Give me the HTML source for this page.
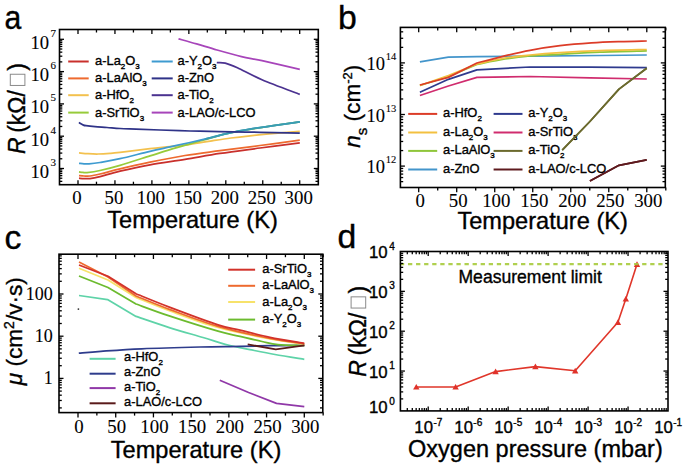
<!DOCTYPE html>
<html><head><meta charset="utf-8"><style>
html,body{margin:0;padding:0;background:#fff;}
text{stroke:#000;stroke-width:0.35px;paint-order:stroke;}
text[font-family*=Serif]{stroke-width:0.1px;}
svg{display:block;}
</style></head><body>
<svg width="685" height="469" viewBox="0 0 685 469">
<rect width="685" height="469" fill="#fff"/>
<path d="M79.00,178.20 C79.83,178.27 82.17,178.53 84.00,178.60 C85.83,178.67 87.33,178.93 90.00,178.60 C92.67,178.27 95.00,177.83 100.00,176.60 C105.00,175.37 111.67,173.17 120.00,171.20 C128.33,169.23 139.17,166.77 150.00,164.80 C160.83,162.83 173.33,161.30 185.00,159.40 C196.67,157.50 207.50,155.30 220.00,153.40 C232.50,151.50 246.70,149.77 260.00,148.00 C273.30,146.23 293.17,143.67 299.80,142.80" fill="none" stroke="#C9302C" stroke-width="1.75" stroke-linejoin="round" />
<path d="M79.00,175.60 C79.83,175.67 82.17,175.93 84.00,176.00 C85.83,176.07 87.33,176.33 90.00,176.00 C92.67,175.67 95.00,175.18 100.00,174.00 C105.00,172.82 111.67,170.87 120.00,168.90 C128.33,166.93 139.17,164.43 150.00,162.20 C160.83,159.97 173.33,157.42 185.00,155.50 C196.67,153.58 207.50,152.37 220.00,150.70 C232.50,149.03 246.70,147.25 260.00,145.50 C273.30,143.75 293.17,141.08 299.80,140.20" fill="none" stroke="#EE6A2F" stroke-width="1.75" stroke-linejoin="round" />
<path d="M79.00,152.90 C80.50,153.03 84.83,153.52 88.00,153.70 C91.17,153.88 94.33,154.05 98.00,154.00 C101.67,153.95 106.33,153.67 110.00,153.40 C113.67,153.13 113.33,153.18 120.00,152.40 C126.67,151.62 141.67,149.67 150.00,148.70 C158.33,147.73 163.33,147.33 170.00,146.60 C176.67,145.87 183.00,145.27 190.00,144.30 C197.00,143.33 205.17,141.85 212.00,140.80 C218.83,139.75 224.67,138.83 231.00,138.00 C237.33,137.17 242.67,136.57 250.00,135.80 C257.33,135.03 266.70,134.15 275.00,133.40 C283.30,132.65 295.67,131.65 299.80,131.30" fill="none" stroke="#F3C14E" stroke-width="1.75" stroke-linejoin="round" />
<path d="M79.00,171.90 C79.67,171.98 81.67,172.28 83.00,172.40 C84.33,172.52 84.17,172.92 87.00,172.60 C89.83,172.28 94.50,171.72 100.00,170.50 C105.50,169.28 111.67,167.73 120.00,165.30 C128.33,162.87 141.67,158.52 150.00,155.90 C158.33,153.28 163.33,151.62 170.00,149.60 C176.67,147.58 184.17,145.47 190.00,143.80 C195.83,142.13 200.00,141.02 205.00,139.60 C210.00,138.18 214.50,136.68 220.00,135.30 C225.50,133.92 229.67,132.82 238.00,131.30 C246.33,129.78 259.70,127.78 270.00,126.20 C280.30,124.62 294.83,122.53 299.80,121.80" fill="none" stroke="#97CB3A" stroke-width="1.75" stroke-linejoin="round" />
<path d="M79.00,163.30 C79.83,163.38 82.33,163.70 84.00,163.80 C85.67,163.90 86.33,164.12 89.00,163.90 C91.67,163.68 94.83,163.37 100.00,162.50 C105.17,161.63 111.67,160.57 120.00,158.70 C128.33,156.83 141.67,153.27 150.00,151.30 C158.33,149.33 163.33,148.37 170.00,146.90 C176.67,145.43 183.00,144.10 190.00,142.50 C197.00,140.90 205.17,138.95 212.00,137.30 C218.83,135.65 224.67,133.97 231.00,132.60 C237.33,131.23 242.67,130.30 250.00,129.10 C257.33,127.90 266.70,126.62 275.00,125.40 C283.30,124.18 295.67,122.40 299.80,121.80" fill="none" stroke="#3E9BD0" stroke-width="1.75" stroke-linejoin="round" />
<path d="M205.00,139.20 C206.17,138.88 207.67,138.40 212.00,137.30 C216.33,136.20 224.67,133.97 231.00,132.60 C237.33,131.23 242.67,130.30 250.00,129.10 C257.33,127.90 266.70,126.62 275.00,125.40 C283.30,124.18 295.67,122.40 299.80,121.80" fill="none" stroke="#3A9DB2" stroke-width="1.75" stroke-linejoin="round" />
<path d="M79.00,122.30 C79.25,122.52 79.83,123.17 80.50,123.60 C81.17,124.03 82.08,124.55 83.00,124.90 C83.92,125.25 84.00,125.40 86.00,125.70 C88.00,126.00 91.50,126.40 95.00,126.70 C98.50,127.00 102.83,127.20 107.00,127.50 C111.17,127.80 115.17,128.23 120.00,128.50 C124.83,128.77 129.33,128.85 136.00,129.10 C142.67,129.35 151.00,129.68 160.00,130.00 C169.00,130.32 180.00,130.73 190.00,131.00 C200.00,131.27 208.33,131.38 220.00,131.60 C231.67,131.82 246.70,132.05 260.00,132.30 C273.30,132.55 293.17,132.97 299.80,133.10" fill="none" stroke="#2F3388" stroke-width="1.75" stroke-linejoin="round" />
<path d="M178.50,38.80 C181.52,39.65 190.18,42.03 196.60,43.90 C203.02,45.77 209.52,47.88 217.00,50.00 C224.48,52.12 234.00,54.82 241.50,56.60 C249.00,58.38 252.28,58.57 262.00,60.70 C271.72,62.83 293.50,67.95 299.80,69.40" fill="none" stroke="#A745BA" stroke-width="1.75" stroke-linejoin="round" />
<path d="M216.80,62.60 C218.20,62.68 221.77,62.23 225.20,63.10 C228.63,63.97 231.27,65.03 237.40,67.80 C243.53,70.57 251.60,75.27 262.00,79.70 C272.40,84.13 293.50,91.95 299.80,94.40" fill="none" stroke="#4B3290" stroke-width="1.75" stroke-linejoin="round" />
<line x1="68.20" y1="61.50" x2="88.70" y2="61.50" stroke="#C9302C" stroke-width="2.0" />
<text x="95.00" y="65.40" font-family="'Liberation Sans', sans-serif" font-size="12.9" text-anchor="start" >a-La<tspan baseline-shift="-4" font-size="8">2</tspan>O<tspan baseline-shift="-4" font-size="8">3</tspan></text>
<line x1="68.20" y1="78.40" x2="88.70" y2="78.40" stroke="#EE6A2F" stroke-width="2.0" />
<text x="95.00" y="82.30" font-family="'Liberation Sans', sans-serif" font-size="12.9" text-anchor="start" >a-LaAlO<tspan baseline-shift="-4" font-size="8">3</tspan></text>
<line x1="68.20" y1="95.20" x2="88.70" y2="95.20" stroke="#F3C14E" stroke-width="2.0" />
<text x="95.00" y="99.10" font-family="'Liberation Sans', sans-serif" font-size="12.9" text-anchor="start" >a-HfO<tspan baseline-shift="-4" font-size="8">2</tspan></text>
<line x1="68.20" y1="112.60" x2="88.70" y2="112.60" stroke="#97CB3A" stroke-width="2.0" />
<text x="95.00" y="116.50" font-family="'Liberation Sans', sans-serif" font-size="12.9" text-anchor="start" >a-SrTiO<tspan baseline-shift="-4" font-size="8">3</tspan></text>
<line x1="151.70" y1="61.50" x2="172.70" y2="61.50" stroke="#3E9BD0" stroke-width="2.0" />
<text x="177.50" y="65.40" font-family="'Liberation Sans', sans-serif" font-size="12.9" text-anchor="start" >a-Y<tspan baseline-shift="-4" font-size="8">2</tspan>O<tspan baseline-shift="-4" font-size="8">3</tspan></text>
<line x1="151.70" y1="78.40" x2="172.70" y2="78.40" stroke="#2F3388" stroke-width="2.0" />
<text x="177.50" y="82.30" font-family="'Liberation Sans', sans-serif" font-size="12.9" text-anchor="start" >a-ZnO</text>
<line x1="151.70" y1="95.20" x2="172.70" y2="95.20" stroke="#4B3290" stroke-width="2.0" />
<text x="177.50" y="99.10" font-family="'Liberation Sans', sans-serif" font-size="12.9" text-anchor="start" >a-TiO<tspan baseline-shift="-4" font-size="8">2</tspan></text>
<line x1="151.70" y1="112.60" x2="172.70" y2="112.60" stroke="#A745BA" stroke-width="2.0" />
<text x="177.50" y="116.50" font-family="'Liberation Sans', sans-serif" font-size="12.9" text-anchor="start" >a-LAO/c-LCO</text>
<rect x="59.50" y="29.50" width="258.80" height="155.20" fill="none" stroke="#000" stroke-width="1.6"/>
<line x1="78.00" y1="184.70" x2="78.00" y2="180.20" stroke="#000" stroke-width="1.3" />
<line x1="78.00" y1="29.50" x2="78.00" y2="34.00" stroke="#000" stroke-width="1.3" />
<line x1="114.95" y1="184.70" x2="114.95" y2="180.20" stroke="#000" stroke-width="1.3" />
<line x1="114.95" y1="29.50" x2="114.95" y2="34.00" stroke="#000" stroke-width="1.3" />
<line x1="151.90" y1="184.70" x2="151.90" y2="180.20" stroke="#000" stroke-width="1.3" />
<line x1="151.90" y1="29.50" x2="151.90" y2="34.00" stroke="#000" stroke-width="1.3" />
<line x1="188.85" y1="184.70" x2="188.85" y2="180.20" stroke="#000" stroke-width="1.3" />
<line x1="188.85" y1="29.50" x2="188.85" y2="34.00" stroke="#000" stroke-width="1.3" />
<line x1="225.80" y1="184.70" x2="225.80" y2="180.20" stroke="#000" stroke-width="1.3" />
<line x1="225.80" y1="29.50" x2="225.80" y2="34.00" stroke="#000" stroke-width="1.3" />
<line x1="262.75" y1="184.70" x2="262.75" y2="180.20" stroke="#000" stroke-width="1.3" />
<line x1="262.75" y1="29.50" x2="262.75" y2="34.00" stroke="#000" stroke-width="1.3" />
<line x1="299.70" y1="184.70" x2="299.70" y2="180.20" stroke="#000" stroke-width="1.3" />
<line x1="299.70" y1="29.50" x2="299.70" y2="34.00" stroke="#000" stroke-width="1.3" />
<line x1="96.47" y1="184.70" x2="96.47" y2="181.70" stroke="#000" stroke-width="1.3" />
<line x1="96.47" y1="29.50" x2="96.47" y2="32.50" stroke="#000" stroke-width="1.3" />
<line x1="133.43" y1="184.70" x2="133.43" y2="181.70" stroke="#000" stroke-width="1.3" />
<line x1="133.43" y1="29.50" x2="133.43" y2="32.50" stroke="#000" stroke-width="1.3" />
<line x1="170.38" y1="184.70" x2="170.38" y2="181.70" stroke="#000" stroke-width="1.3" />
<line x1="170.38" y1="29.50" x2="170.38" y2="32.50" stroke="#000" stroke-width="1.3" />
<line x1="207.32" y1="184.70" x2="207.32" y2="181.70" stroke="#000" stroke-width="1.3" />
<line x1="207.32" y1="29.50" x2="207.32" y2="32.50" stroke="#000" stroke-width="1.3" />
<line x1="244.28" y1="184.70" x2="244.28" y2="181.70" stroke="#000" stroke-width="1.3" />
<line x1="244.28" y1="29.50" x2="244.28" y2="32.50" stroke="#000" stroke-width="1.3" />
<line x1="281.23" y1="184.70" x2="281.23" y2="181.70" stroke="#000" stroke-width="1.3" />
<line x1="281.23" y1="29.50" x2="281.23" y2="32.50" stroke="#000" stroke-width="1.3" />
<line x1="59.50" y1="181.35" x2="62.30" y2="181.35" stroke="#000" stroke-width="1.3" />
<line x1="318.30" y1="181.35" x2="315.50" y2="181.35" stroke="#000" stroke-width="1.3" />
<line x1="59.50" y1="178.22" x2="62.30" y2="178.22" stroke="#000" stroke-width="1.3" />
<line x1="318.30" y1="178.22" x2="315.50" y2="178.22" stroke="#000" stroke-width="1.3" />
<line x1="59.50" y1="175.67" x2="62.30" y2="175.67" stroke="#000" stroke-width="1.3" />
<line x1="318.30" y1="175.67" x2="315.50" y2="175.67" stroke="#000" stroke-width="1.3" />
<line x1="59.50" y1="173.50" x2="62.30" y2="173.50" stroke="#000" stroke-width="1.3" />
<line x1="318.30" y1="173.50" x2="315.50" y2="173.50" stroke="#000" stroke-width="1.3" />
<line x1="59.50" y1="171.63" x2="62.30" y2="171.63" stroke="#000" stroke-width="1.3" />
<line x1="318.30" y1="171.63" x2="315.50" y2="171.63" stroke="#000" stroke-width="1.3" />
<line x1="59.50" y1="169.98" x2="62.30" y2="169.98" stroke="#000" stroke-width="1.3" />
<line x1="318.30" y1="169.98" x2="315.50" y2="169.98" stroke="#000" stroke-width="1.3" />
<line x1="59.50" y1="168.50" x2="64.00" y2="168.50" stroke="#000" stroke-width="1.3" />
<line x1="318.30" y1="168.50" x2="313.80" y2="168.50" stroke="#000" stroke-width="1.3" />
<line x1="59.50" y1="158.78" x2="62.30" y2="158.78" stroke="#000" stroke-width="1.3" />
<line x1="318.30" y1="158.78" x2="315.50" y2="158.78" stroke="#000" stroke-width="1.3" />
<line x1="59.50" y1="153.09" x2="62.30" y2="153.09" stroke="#000" stroke-width="1.3" />
<line x1="318.30" y1="153.09" x2="315.50" y2="153.09" stroke="#000" stroke-width="1.3" />
<line x1="59.50" y1="149.05" x2="62.30" y2="149.05" stroke="#000" stroke-width="1.3" />
<line x1="318.30" y1="149.05" x2="315.50" y2="149.05" stroke="#000" stroke-width="1.3" />
<line x1="59.50" y1="145.92" x2="62.30" y2="145.92" stroke="#000" stroke-width="1.3" />
<line x1="318.30" y1="145.92" x2="315.50" y2="145.92" stroke="#000" stroke-width="1.3" />
<line x1="59.50" y1="143.37" x2="62.30" y2="143.37" stroke="#000" stroke-width="1.3" />
<line x1="318.30" y1="143.37" x2="315.50" y2="143.37" stroke="#000" stroke-width="1.3" />
<line x1="59.50" y1="141.20" x2="62.30" y2="141.20" stroke="#000" stroke-width="1.3" />
<line x1="318.30" y1="141.20" x2="315.50" y2="141.20" stroke="#000" stroke-width="1.3" />
<line x1="59.50" y1="139.33" x2="62.30" y2="139.33" stroke="#000" stroke-width="1.3" />
<line x1="318.30" y1="139.33" x2="315.50" y2="139.33" stroke="#000" stroke-width="1.3" />
<line x1="59.50" y1="137.68" x2="62.30" y2="137.68" stroke="#000" stroke-width="1.3" />
<line x1="318.30" y1="137.68" x2="315.50" y2="137.68" stroke="#000" stroke-width="1.3" />
<line x1="59.50" y1="136.20" x2="64.00" y2="136.20" stroke="#000" stroke-width="1.3" />
<line x1="318.30" y1="136.20" x2="313.80" y2="136.20" stroke="#000" stroke-width="1.3" />
<line x1="59.50" y1="126.48" x2="62.30" y2="126.48" stroke="#000" stroke-width="1.3" />
<line x1="318.30" y1="126.48" x2="315.50" y2="126.48" stroke="#000" stroke-width="1.3" />
<line x1="59.50" y1="120.79" x2="62.30" y2="120.79" stroke="#000" stroke-width="1.3" />
<line x1="318.30" y1="120.79" x2="315.50" y2="120.79" stroke="#000" stroke-width="1.3" />
<line x1="59.50" y1="116.75" x2="62.30" y2="116.75" stroke="#000" stroke-width="1.3" />
<line x1="318.30" y1="116.75" x2="315.50" y2="116.75" stroke="#000" stroke-width="1.3" />
<line x1="59.50" y1="113.62" x2="62.30" y2="113.62" stroke="#000" stroke-width="1.3" />
<line x1="318.30" y1="113.62" x2="315.50" y2="113.62" stroke="#000" stroke-width="1.3" />
<line x1="59.50" y1="111.07" x2="62.30" y2="111.07" stroke="#000" stroke-width="1.3" />
<line x1="318.30" y1="111.07" x2="315.50" y2="111.07" stroke="#000" stroke-width="1.3" />
<line x1="59.50" y1="108.90" x2="62.30" y2="108.90" stroke="#000" stroke-width="1.3" />
<line x1="318.30" y1="108.90" x2="315.50" y2="108.90" stroke="#000" stroke-width="1.3" />
<line x1="59.50" y1="107.03" x2="62.30" y2="107.03" stroke="#000" stroke-width="1.3" />
<line x1="318.30" y1="107.03" x2="315.50" y2="107.03" stroke="#000" stroke-width="1.3" />
<line x1="59.50" y1="105.38" x2="62.30" y2="105.38" stroke="#000" stroke-width="1.3" />
<line x1="318.30" y1="105.38" x2="315.50" y2="105.38" stroke="#000" stroke-width="1.3" />
<line x1="59.50" y1="103.90" x2="64.00" y2="103.90" stroke="#000" stroke-width="1.3" />
<line x1="318.30" y1="103.90" x2="313.80" y2="103.90" stroke="#000" stroke-width="1.3" />
<line x1="59.50" y1="94.18" x2="62.30" y2="94.18" stroke="#000" stroke-width="1.3" />
<line x1="318.30" y1="94.18" x2="315.50" y2="94.18" stroke="#000" stroke-width="1.3" />
<line x1="59.50" y1="88.49" x2="62.30" y2="88.49" stroke="#000" stroke-width="1.3" />
<line x1="318.30" y1="88.49" x2="315.50" y2="88.49" stroke="#000" stroke-width="1.3" />
<line x1="59.50" y1="84.45" x2="62.30" y2="84.45" stroke="#000" stroke-width="1.3" />
<line x1="318.30" y1="84.45" x2="315.50" y2="84.45" stroke="#000" stroke-width="1.3" />
<line x1="59.50" y1="81.32" x2="62.30" y2="81.32" stroke="#000" stroke-width="1.3" />
<line x1="318.30" y1="81.32" x2="315.50" y2="81.32" stroke="#000" stroke-width="1.3" />
<line x1="59.50" y1="78.77" x2="62.30" y2="78.77" stroke="#000" stroke-width="1.3" />
<line x1="318.30" y1="78.77" x2="315.50" y2="78.77" stroke="#000" stroke-width="1.3" />
<line x1="59.50" y1="76.60" x2="62.30" y2="76.60" stroke="#000" stroke-width="1.3" />
<line x1="318.30" y1="76.60" x2="315.50" y2="76.60" stroke="#000" stroke-width="1.3" />
<line x1="59.50" y1="74.73" x2="62.30" y2="74.73" stroke="#000" stroke-width="1.3" />
<line x1="318.30" y1="74.73" x2="315.50" y2="74.73" stroke="#000" stroke-width="1.3" />
<line x1="59.50" y1="73.08" x2="62.30" y2="73.08" stroke="#000" stroke-width="1.3" />
<line x1="318.30" y1="73.08" x2="315.50" y2="73.08" stroke="#000" stroke-width="1.3" />
<line x1="59.50" y1="71.60" x2="64.00" y2="71.60" stroke="#000" stroke-width="1.3" />
<line x1="318.30" y1="71.60" x2="313.80" y2="71.60" stroke="#000" stroke-width="1.3" />
<line x1="59.50" y1="61.88" x2="62.30" y2="61.88" stroke="#000" stroke-width="1.3" />
<line x1="318.30" y1="61.88" x2="315.50" y2="61.88" stroke="#000" stroke-width="1.3" />
<line x1="59.50" y1="56.19" x2="62.30" y2="56.19" stroke="#000" stroke-width="1.3" />
<line x1="318.30" y1="56.19" x2="315.50" y2="56.19" stroke="#000" stroke-width="1.3" />
<line x1="59.50" y1="52.15" x2="62.30" y2="52.15" stroke="#000" stroke-width="1.3" />
<line x1="318.30" y1="52.15" x2="315.50" y2="52.15" stroke="#000" stroke-width="1.3" />
<line x1="59.50" y1="49.02" x2="62.30" y2="49.02" stroke="#000" stroke-width="1.3" />
<line x1="318.30" y1="49.02" x2="315.50" y2="49.02" stroke="#000" stroke-width="1.3" />
<line x1="59.50" y1="46.47" x2="62.30" y2="46.47" stroke="#000" stroke-width="1.3" />
<line x1="318.30" y1="46.47" x2="315.50" y2="46.47" stroke="#000" stroke-width="1.3" />
<line x1="59.50" y1="44.30" x2="62.30" y2="44.30" stroke="#000" stroke-width="1.3" />
<line x1="318.30" y1="44.30" x2="315.50" y2="44.30" stroke="#000" stroke-width="1.3" />
<line x1="59.50" y1="42.43" x2="62.30" y2="42.43" stroke="#000" stroke-width="1.3" />
<line x1="318.30" y1="42.43" x2="315.50" y2="42.43" stroke="#000" stroke-width="1.3" />
<line x1="59.50" y1="40.78" x2="62.30" y2="40.78" stroke="#000" stroke-width="1.3" />
<line x1="318.30" y1="40.78" x2="315.50" y2="40.78" stroke="#000" stroke-width="1.3" />
<line x1="59.50" y1="39.30" x2="64.00" y2="39.30" stroke="#000" stroke-width="1.3" />
<line x1="318.30" y1="39.30" x2="313.80" y2="39.30" stroke="#000" stroke-width="1.3" />
<text x="77.00" y="204.30" font-family="'Liberation Serif', serif" font-size="18.8" text-anchor="middle" >0</text>
<text x="113.95" y="204.30" font-family="'Liberation Serif', serif" font-size="18.8" text-anchor="middle" >50</text>
<text x="150.90" y="204.30" font-family="'Liberation Serif', serif" font-size="18.8" text-anchor="middle" >100</text>
<text x="187.85" y="204.30" font-family="'Liberation Serif', serif" font-size="18.8" text-anchor="middle" >150</text>
<text x="224.80" y="204.30" font-family="'Liberation Serif', serif" font-size="18.8" text-anchor="middle" >200</text>
<text x="261.75" y="204.30" font-family="'Liberation Serif', serif" font-size="18.8" text-anchor="middle" >250</text>
<text x="298.70" y="204.30" font-family="'Liberation Serif', serif" font-size="18.8" text-anchor="middle" >300</text>
<text x="49.10" y="177.80" font-family="'Liberation Serif', serif" font-size="18.6" text-anchor="end" >10</text>
<text x="50.60" y="165.80" font-family="'Liberation Serif', serif" font-size="11" text-anchor="start" >3</text>
<text x="49.10" y="145.50" font-family="'Liberation Serif', serif" font-size="18.6" text-anchor="end" >10</text>
<text x="50.60" y="133.50" font-family="'Liberation Serif', serif" font-size="11" text-anchor="start" >4</text>
<text x="49.10" y="113.20" font-family="'Liberation Serif', serif" font-size="18.6" text-anchor="end" >10</text>
<text x="50.60" y="101.20" font-family="'Liberation Serif', serif" font-size="11" text-anchor="start" >5</text>
<text x="49.10" y="80.90" font-family="'Liberation Serif', serif" font-size="18.6" text-anchor="end" >10</text>
<text x="50.60" y="68.90" font-family="'Liberation Serif', serif" font-size="11" text-anchor="start" >6</text>
<text x="49.10" y="48.60" font-family="'Liberation Serif', serif" font-size="18.6" text-anchor="end" >10</text>
<text x="50.60" y="36.60" font-family="'Liberation Serif', serif" font-size="11" text-anchor="start" >7</text>
<text x="107.30" y="227.60" font-family="'Liberation Sans', sans-serif" font-size="23.6" text-anchor="start" >Temperature (K)</text>
<text transform="translate(4.6,28.7) scale(0.93,1)" font-family="'Liberation Sans', sans-serif" font-size="32.5">a</text>
<g transform="translate(24.90,154.05) rotate(-90)">
<text x="0" y="0" font-family="'Liberation Sans', sans-serif" font-size="23.0" font-style="italic">R</text>
<text x="21.2" y="0" font-family="'Liberation Sans', sans-serif" font-size="23.0">(k&#937;/</text>
<rect x="68.6" y="-14.6" width="11.2" height="14.6" fill="none" stroke="#8a8a8a" stroke-width="1"/>
<text x="83.2" y="0" font-family="'Liberation Sans', sans-serif" font-size="23.0">)</text>
</g>
<polyline points="419.90,61.90 448.40,57.10 476.90,56.60 530.00,56.20 600.00,55.50 646.80,55.00" fill="none" stroke="#4395CB" stroke-width="1.75" stroke-linejoin="round" stroke-linecap="butt" />
<polyline points="419.90,95.50 448.40,86.00 476.90,77.40 530.00,76.50 590.00,77.80 646.80,79.00" fill="none" stroke="#D02C6E" stroke-width="1.75" stroke-linejoin="round" stroke-linecap="butt" />
<polyline points="419.90,92.20 448.40,79.30 476.90,69.80 530.00,67.00 590.00,67.20 646.80,67.60" fill="none" stroke="#2F3A8E" stroke-width="1.75" stroke-linejoin="round" stroke-linecap="butt" />
<path d="M419.90,85.50 L448.40,76.50 L476.90,64.50 C481.58,63.58 496.15,60.42 505.00,59.00 C513.85,57.58 520.83,56.78 530.00,56.00 C539.17,55.22 548.33,54.93 560.00,54.30 C571.67,53.67 585.53,52.77 600.00,52.20 C614.47,51.63 639.00,51.12 646.80,50.90" fill="none" stroke="#8FC63A" stroke-width="1.75" stroke-linejoin="round" />
<path d="M419.90,85.50 L448.40,75.50 L476.90,64.00 C481.58,63.00 496.15,59.50 505.00,58.00 C513.85,56.50 520.83,55.90 530.00,55.00 C539.17,54.10 548.33,53.33 560.00,52.60 C571.67,51.87 585.53,51.12 600.00,50.60 C614.47,50.08 639.00,49.68 646.80,49.50" fill="none" stroke="#F3C040" stroke-width="1.75" stroke-linejoin="round" />
<path d="M419.90,85.00 L448.40,77.40 L476.90,63.00 C481.22,61.88 493.95,58.42 502.80,56.30 C511.65,54.18 520.47,52.07 530.00,50.30 C539.53,48.53 549.77,46.93 560.00,45.70 C570.23,44.47 581.40,43.58 591.40,42.90 C601.40,42.22 610.77,41.92 620.00,41.60 C629.23,41.28 642.33,41.10 646.80,41.00" fill="none" stroke="#DC3C28" stroke-width="1.75" stroke-linejoin="round" />
<polyline points="562.20,150.10 589.90,121.50 619.00,89.10 646.70,68.30" fill="none" stroke="#6B6A2E" stroke-width="1.75" stroke-linejoin="round" stroke-linecap="butt" />
<polyline points="589.90,181.10 619.00,165.30 646.70,159.80" fill="none" stroke="#5E1A1E" stroke-width="1.75" stroke-linejoin="round" stroke-linecap="butt" />
<line x1="408.20" y1="113.90" x2="437.20" y2="113.90" stroke="#DC3C28" stroke-width="2.0" />
<text x="443.00" y="117.30" font-family="'Liberation Sans', sans-serif" font-size="12.9" text-anchor="start" >a-HfO<tspan baseline-shift="-4" font-size="8">2</tspan></text>
<line x1="408.20" y1="132.50" x2="437.20" y2="132.50" stroke="#F3C040" stroke-width="2.0" />
<text x="443.00" y="135.90" font-family="'Liberation Sans', sans-serif" font-size="12.9" text-anchor="start" >a-La<tspan baseline-shift="-4" font-size="8">2</tspan>O<tspan baseline-shift="-4" font-size="8">3</tspan></text>
<line x1="408.20" y1="150.90" x2="437.20" y2="150.90" stroke="#8FC63A" stroke-width="2.0" />
<text x="443.00" y="154.30" font-family="'Liberation Sans', sans-serif" font-size="12.9" text-anchor="start" >a-LaAlO<tspan baseline-shift="-4" font-size="8">3</tspan></text>
<line x1="408.20" y1="169.50" x2="437.20" y2="169.50" stroke="#4395CB" stroke-width="2.0" />
<text x="443.00" y="172.90" font-family="'Liberation Sans', sans-serif" font-size="12.9" text-anchor="start" >a-ZnO</text>
<line x1="493.60" y1="113.90" x2="522.50" y2="113.90" stroke="#2F3A8E" stroke-width="2.0" />
<text x="528.30" y="117.30" font-family="'Liberation Sans', sans-serif" font-size="12.9" text-anchor="start" >a-Y<tspan baseline-shift="-4" font-size="8">2</tspan>O<tspan baseline-shift="-4" font-size="8">3</tspan></text>
<line x1="493.60" y1="132.50" x2="522.50" y2="132.50" stroke="#D02C6E" stroke-width="2.0" />
<text x="528.30" y="135.90" font-family="'Liberation Sans', sans-serif" font-size="12.9" text-anchor="start" >a-SrTiO<tspan baseline-shift="-4" font-size="8">3</tspan></text>
<line x1="493.60" y1="150.90" x2="522.50" y2="150.90" stroke="#6B6A2E" stroke-width="2.0" />
<text x="528.30" y="154.30" font-family="'Liberation Sans', sans-serif" font-size="12.9" text-anchor="start" >a-TiO<tspan baseline-shift="-4" font-size="8">2</tspan></text>
<line x1="493.60" y1="169.50" x2="522.50" y2="169.50" stroke="#5E1A1E" stroke-width="2.0" />
<text x="528.30" y="172.90" font-family="'Liberation Sans', sans-serif" font-size="12.9" text-anchor="start" >a-LAO/c-LCO</text>
<polyline points="562.20,150.10 589.90,121.50 619.00,89.10 646.70,68.30" fill="none" stroke="#6B6A2E" stroke-width="1.75" stroke-linejoin="round" stroke-linecap="butt" />
<polyline points="589.90,181.10 619.00,165.30 646.70,159.80" fill="none" stroke="#5E1A1E" stroke-width="1.75" stroke-linejoin="round" stroke-linecap="butt" />
<rect x="400.40" y="27.40" width="264.90" height="160.10" fill="none" stroke="#000" stroke-width="1.6"/>
<line x1="418.70" y1="187.50" x2="418.70" y2="192.30" stroke="#000" stroke-width="1.3" />
<line x1="418.70" y1="27.40" x2="418.70" y2="32.20" stroke="#000" stroke-width="1.3" />
<line x1="456.71" y1="187.50" x2="456.71" y2="192.30" stroke="#000" stroke-width="1.3" />
<line x1="456.71" y1="27.40" x2="456.71" y2="32.20" stroke="#000" stroke-width="1.3" />
<line x1="494.73" y1="187.50" x2="494.73" y2="192.30" stroke="#000" stroke-width="1.3" />
<line x1="494.73" y1="27.40" x2="494.73" y2="32.20" stroke="#000" stroke-width="1.3" />
<line x1="532.75" y1="187.50" x2="532.75" y2="192.30" stroke="#000" stroke-width="1.3" />
<line x1="532.75" y1="27.40" x2="532.75" y2="32.20" stroke="#000" stroke-width="1.3" />
<line x1="570.76" y1="187.50" x2="570.76" y2="192.30" stroke="#000" stroke-width="1.3" />
<line x1="570.76" y1="27.40" x2="570.76" y2="32.20" stroke="#000" stroke-width="1.3" />
<line x1="608.77" y1="187.50" x2="608.77" y2="192.30" stroke="#000" stroke-width="1.3" />
<line x1="608.77" y1="27.40" x2="608.77" y2="32.20" stroke="#000" stroke-width="1.3" />
<line x1="646.79" y1="187.50" x2="646.79" y2="192.30" stroke="#000" stroke-width="1.3" />
<line x1="646.79" y1="27.40" x2="646.79" y2="32.20" stroke="#000" stroke-width="1.3" />
<line x1="437.71" y1="187.50" x2="437.71" y2="190.50" stroke="#000" stroke-width="1.3" />
<line x1="437.71" y1="27.40" x2="437.71" y2="30.40" stroke="#000" stroke-width="1.3" />
<line x1="475.72" y1="187.50" x2="475.72" y2="190.50" stroke="#000" stroke-width="1.3" />
<line x1="475.72" y1="27.40" x2="475.72" y2="30.40" stroke="#000" stroke-width="1.3" />
<line x1="513.74" y1="187.50" x2="513.74" y2="190.50" stroke="#000" stroke-width="1.3" />
<line x1="513.74" y1="27.40" x2="513.74" y2="30.40" stroke="#000" stroke-width="1.3" />
<line x1="551.75" y1="187.50" x2="551.75" y2="190.50" stroke="#000" stroke-width="1.3" />
<line x1="551.75" y1="27.40" x2="551.75" y2="30.40" stroke="#000" stroke-width="1.3" />
<line x1="589.77" y1="187.50" x2="589.77" y2="190.50" stroke="#000" stroke-width="1.3" />
<line x1="589.77" y1="27.40" x2="589.77" y2="30.40" stroke="#000" stroke-width="1.3" />
<line x1="627.78" y1="187.50" x2="627.78" y2="190.50" stroke="#000" stroke-width="1.3" />
<line x1="627.78" y1="27.40" x2="627.78" y2="30.40" stroke="#000" stroke-width="1.3" />
<line x1="665.80" y1="187.50" x2="665.80" y2="190.50" stroke="#000" stroke-width="1.3" />
<line x1="665.80" y1="27.40" x2="665.80" y2="30.40" stroke="#000" stroke-width="1.3" />
<line x1="400.40" y1="181.63" x2="403.20" y2="181.63" stroke="#000" stroke-width="1.3" />
<line x1="665.30" y1="181.63" x2="662.50" y2="181.63" stroke="#000" stroke-width="1.3" />
<line x1="400.40" y1="177.55" x2="403.20" y2="177.55" stroke="#000" stroke-width="1.3" />
<line x1="665.30" y1="177.55" x2="662.50" y2="177.55" stroke="#000" stroke-width="1.3" />
<line x1="400.40" y1="174.09" x2="403.20" y2="174.09" stroke="#000" stroke-width="1.3" />
<line x1="665.30" y1="174.09" x2="662.50" y2="174.09" stroke="#000" stroke-width="1.3" />
<line x1="400.40" y1="171.10" x2="403.20" y2="171.10" stroke="#000" stroke-width="1.3" />
<line x1="665.30" y1="171.10" x2="662.50" y2="171.10" stroke="#000" stroke-width="1.3" />
<line x1="400.40" y1="168.46" x2="403.20" y2="168.46" stroke="#000" stroke-width="1.3" />
<line x1="665.30" y1="168.46" x2="662.50" y2="168.46" stroke="#000" stroke-width="1.3" />
<line x1="400.40" y1="166.10" x2="404.90" y2="166.10" stroke="#000" stroke-width="1.3" />
<line x1="665.30" y1="166.10" x2="660.80" y2="166.10" stroke="#000" stroke-width="1.3" />
<line x1="400.40" y1="150.57" x2="403.20" y2="150.57" stroke="#000" stroke-width="1.3" />
<line x1="665.30" y1="150.57" x2="662.50" y2="150.57" stroke="#000" stroke-width="1.3" />
<line x1="400.40" y1="141.48" x2="403.20" y2="141.48" stroke="#000" stroke-width="1.3" />
<line x1="665.30" y1="141.48" x2="662.50" y2="141.48" stroke="#000" stroke-width="1.3" />
<line x1="400.40" y1="135.03" x2="403.20" y2="135.03" stroke="#000" stroke-width="1.3" />
<line x1="665.30" y1="135.03" x2="662.50" y2="135.03" stroke="#000" stroke-width="1.3" />
<line x1="400.40" y1="130.03" x2="403.20" y2="130.03" stroke="#000" stroke-width="1.3" />
<line x1="665.30" y1="130.03" x2="662.50" y2="130.03" stroke="#000" stroke-width="1.3" />
<line x1="400.40" y1="125.95" x2="403.20" y2="125.95" stroke="#000" stroke-width="1.3" />
<line x1="665.30" y1="125.95" x2="662.50" y2="125.95" stroke="#000" stroke-width="1.3" />
<line x1="400.40" y1="122.49" x2="403.20" y2="122.49" stroke="#000" stroke-width="1.3" />
<line x1="665.30" y1="122.49" x2="662.50" y2="122.49" stroke="#000" stroke-width="1.3" />
<line x1="400.40" y1="119.50" x2="403.20" y2="119.50" stroke="#000" stroke-width="1.3" />
<line x1="665.30" y1="119.50" x2="662.50" y2="119.50" stroke="#000" stroke-width="1.3" />
<line x1="400.40" y1="116.86" x2="403.20" y2="116.86" stroke="#000" stroke-width="1.3" />
<line x1="665.30" y1="116.86" x2="662.50" y2="116.86" stroke="#000" stroke-width="1.3" />
<line x1="400.40" y1="114.50" x2="404.90" y2="114.50" stroke="#000" stroke-width="1.3" />
<line x1="665.30" y1="114.50" x2="660.80" y2="114.50" stroke="#000" stroke-width="1.3" />
<line x1="400.40" y1="98.97" x2="403.20" y2="98.97" stroke="#000" stroke-width="1.3" />
<line x1="665.30" y1="98.97" x2="662.50" y2="98.97" stroke="#000" stroke-width="1.3" />
<line x1="400.40" y1="89.88" x2="403.20" y2="89.88" stroke="#000" stroke-width="1.3" />
<line x1="665.30" y1="89.88" x2="662.50" y2="89.88" stroke="#000" stroke-width="1.3" />
<line x1="400.40" y1="83.43" x2="403.20" y2="83.43" stroke="#000" stroke-width="1.3" />
<line x1="665.30" y1="83.43" x2="662.50" y2="83.43" stroke="#000" stroke-width="1.3" />
<line x1="400.40" y1="78.43" x2="403.20" y2="78.43" stroke="#000" stroke-width="1.3" />
<line x1="665.30" y1="78.43" x2="662.50" y2="78.43" stroke="#000" stroke-width="1.3" />
<line x1="400.40" y1="74.35" x2="403.20" y2="74.35" stroke="#000" stroke-width="1.3" />
<line x1="665.30" y1="74.35" x2="662.50" y2="74.35" stroke="#000" stroke-width="1.3" />
<line x1="400.40" y1="70.89" x2="403.20" y2="70.89" stroke="#000" stroke-width="1.3" />
<line x1="665.30" y1="70.89" x2="662.50" y2="70.89" stroke="#000" stroke-width="1.3" />
<line x1="400.40" y1="67.90" x2="403.20" y2="67.90" stroke="#000" stroke-width="1.3" />
<line x1="665.30" y1="67.90" x2="662.50" y2="67.90" stroke="#000" stroke-width="1.3" />
<line x1="400.40" y1="65.26" x2="403.20" y2="65.26" stroke="#000" stroke-width="1.3" />
<line x1="665.30" y1="65.26" x2="662.50" y2="65.26" stroke="#000" stroke-width="1.3" />
<line x1="400.40" y1="62.90" x2="404.90" y2="62.90" stroke="#000" stroke-width="1.3" />
<line x1="665.30" y1="62.90" x2="660.80" y2="62.90" stroke="#000" stroke-width="1.3" />
<line x1="400.40" y1="47.37" x2="403.20" y2="47.37" stroke="#000" stroke-width="1.3" />
<line x1="665.30" y1="47.37" x2="662.50" y2="47.37" stroke="#000" stroke-width="1.3" />
<line x1="400.40" y1="38.28" x2="403.20" y2="38.28" stroke="#000" stroke-width="1.3" />
<line x1="665.30" y1="38.28" x2="662.50" y2="38.28" stroke="#000" stroke-width="1.3" />
<line x1="400.40" y1="31.83" x2="403.20" y2="31.83" stroke="#000" stroke-width="1.3" />
<line x1="665.30" y1="31.83" x2="662.50" y2="31.83" stroke="#000" stroke-width="1.3" />
<text x="420.20" y="207.30" font-family="'Liberation Serif', serif" font-size="18.8" text-anchor="middle" >0</text>
<text x="458.21" y="207.30" font-family="'Liberation Serif', serif" font-size="18.8" text-anchor="middle" >50</text>
<text x="496.23" y="207.30" font-family="'Liberation Serif', serif" font-size="18.8" text-anchor="middle" >100</text>
<text x="534.25" y="207.30" font-family="'Liberation Serif', serif" font-size="18.8" text-anchor="middle" >150</text>
<text x="572.26" y="207.30" font-family="'Liberation Serif', serif" font-size="18.8" text-anchor="middle" >200</text>
<text x="610.27" y="207.30" font-family="'Liberation Serif', serif" font-size="18.8" text-anchor="middle" >250</text>
<text x="648.29" y="207.30" font-family="'Liberation Serif', serif" font-size="18.8" text-anchor="middle" >300</text>
<text x="385.00" y="173.10" font-family="'Liberation Serif', serif" font-size="18.5" text-anchor="end" >10</text>
<text x="385.80" y="163.20" font-family="'Liberation Serif', serif" font-size="10.5" text-anchor="start" >12</text>
<text x="385.00" y="121.50" font-family="'Liberation Serif', serif" font-size="18.5" text-anchor="end" >10</text>
<text x="385.80" y="111.60" font-family="'Liberation Serif', serif" font-size="10.5" text-anchor="start" >13</text>
<text x="385.00" y="69.90" font-family="'Liberation Serif', serif" font-size="18.5" text-anchor="end" >10</text>
<text x="385.80" y="60.00" font-family="'Liberation Serif', serif" font-size="10.5" text-anchor="start" >14</text>
<text x="457.40" y="228.90" font-family="'Liberation Sans', sans-serif" font-size="23.6" text-anchor="start" >Temperature (K)</text>
<text transform="translate(337.9,28.7) scale(1.04,1)" font-family="'Liberation Sans', sans-serif" font-size="32.5">b</text>
<g transform="translate(359.8,147.8) rotate(-90)">
<text x="0" y="0" font-family="'Liberation Sans', sans-serif" font-size="22.6"><tspan font-style="italic">n</tspan><tspan font-size="15" dy="7.5">s</tspan><tspan dy="-7.5"> (cm</tspan><tspan font-size="13" dy="-8">-2</tspan><tspan dy="8">)</tspan></text>
</g>
<path d="M79.00,295.50 L107.50,299.60 L136.00,316.40 C141.67,318.30 158.83,324.28 170.00,327.80 C181.17,331.32 193.33,334.63 203.00,337.50 C212.67,340.37 220.17,342.98 228.00,345.00 C235.83,347.02 242.17,348.02 250.00,349.60 C257.83,351.18 265.95,352.88 275.00,354.50 C284.05,356.12 299.42,358.50 304.30,359.30" fill="none" stroke="#5ED3A8" stroke-width="1.75" stroke-linejoin="round" />
<path d="M78.80,353.10 C82.48,352.80 90.42,352.02 100.90,351.30 C111.38,350.58 125.18,349.52 141.70,348.80 C158.22,348.08 183.62,347.40 200.00,347.00 C216.38,346.60 228.33,346.62 240.00,346.40 C251.67,346.18 259.28,345.88 270.00,345.70 C280.72,345.52 298.58,345.37 304.30,345.30" fill="none" stroke="#2E3C8C" stroke-width="1.75" stroke-linejoin="round" />
<path d="M79.00,276.00 L108.00,287.50 L136.00,304.00 C141.67,306.03 156.33,311.67 170.00,316.20 C183.67,320.73 206.33,327.83 218.00,331.20 C229.67,334.57 232.67,334.68 240.00,336.40 C247.33,338.12 255.67,340.13 262.00,341.50 C268.33,342.87 270.95,343.92 278.00,344.60 C285.05,345.28 299.92,345.43 304.30,345.60" fill="none" stroke="#6CBB2E" stroke-width="1.75" stroke-linejoin="round" />
<path d="M79.00,268.30 L108.00,280.00 L136.00,297.50 C141.67,299.75 156.33,306.00 170.00,311.00 C183.67,316.00 201.33,322.83 218.00,327.50 C234.67,332.17 255.62,336.22 270.00,339.00 C284.38,341.78 298.58,343.33 304.30,344.20" fill="none" stroke="#F7E26A" stroke-width="1.75" stroke-linejoin="round" />
<path d="M79.00,262.00 L108.00,277.00 L136.00,296.00 C141.67,298.27 156.33,304.53 170.00,309.60 C183.67,314.67 201.33,321.58 218.00,326.40 C234.67,331.22 255.62,335.60 270.00,338.50 C284.38,341.40 298.58,342.92 304.30,343.80" fill="none" stroke="#EE6A2F" stroke-width="1.75" stroke-linejoin="round" />
<path d="M79.00,265.00 L108.00,276.20 L136.00,293.80 C141.67,296.07 156.33,302.22 170.00,307.40 C183.67,312.58 206.33,321.10 218.00,324.90 C229.67,328.70 231.33,328.13 240.00,330.20 C248.67,332.27 259.28,335.10 270.00,337.30 C280.72,339.50 298.58,342.38 304.30,343.40" fill="none" stroke="#D2322A" stroke-width="1.75" stroke-linejoin="round" />
<polyline points="219.80,380.30 248.60,392.50 276.50,403.40 304.30,406.70" fill="none" stroke="#9038A8" stroke-width="1.75" stroke-linejoin="round" stroke-linecap="butt" />
<polyline points="247.70,344.40 275.80,349.30 304.40,345.40" fill="none" stroke="#5A1A1A" stroke-width="1.75" stroke-linejoin="round" stroke-linecap="butt" />
<circle cx="78.4" cy="309.1" r="0.9" fill="#333"/>
<line x1="228.20" y1="269.70" x2="255.10" y2="269.70" stroke="#D2322A" stroke-width="2.0" />
<text x="262.30" y="273.20" font-family="'Liberation Sans', sans-serif" font-size="12.9" text-anchor="start" >a-SrTiO<tspan baseline-shift="-4" font-size="8">3</tspan></text>
<line x1="228.20" y1="285.80" x2="255.10" y2="285.80" stroke="#EE6A2F" stroke-width="2.0" />
<text x="262.30" y="289.30" font-family="'Liberation Sans', sans-serif" font-size="12.9" text-anchor="start" >a-LaAlO<tspan baseline-shift="-4" font-size="8">3</tspan></text>
<line x1="228.20" y1="302.00" x2="255.10" y2="302.00" stroke="#F7E26A" stroke-width="2.0" />
<text x="262.30" y="305.50" font-family="'Liberation Sans', sans-serif" font-size="12.9" text-anchor="start" >a-La<tspan baseline-shift="-4" font-size="8">2</tspan>O<tspan baseline-shift="-4" font-size="8">3</tspan></text>
<line x1="228.20" y1="319.60" x2="255.10" y2="319.60" stroke="#6CBB2E" stroke-width="2.0" />
<text x="262.30" y="323.10" font-family="'Liberation Sans', sans-serif" font-size="12.9" text-anchor="start" >a-Y<tspan baseline-shift="-4" font-size="8">2</tspan>O<tspan baseline-shift="-4" font-size="8">3</tspan></text>
<line x1="89.60" y1="358.80" x2="115.60" y2="358.80" stroke="#5ED3A8" stroke-width="2.0" />
<text x="124.00" y="361.30" font-family="'Liberation Sans', sans-serif" font-size="12.9" text-anchor="start" >a-HfO<tspan baseline-shift="-4" font-size="8">2</tspan></text>
<line x1="89.60" y1="373.70" x2="115.60" y2="373.70" stroke="#2E3C8C" stroke-width="2.0" />
<text x="124.00" y="376.20" font-family="'Liberation Sans', sans-serif" font-size="12.9" text-anchor="start" >a-ZnO</text>
<line x1="89.60" y1="388.10" x2="115.60" y2="388.10" stroke="#9038A8" stroke-width="2.0" />
<text x="124.00" y="390.60" font-family="'Liberation Sans', sans-serif" font-size="12.9" text-anchor="start" >a-TiO<tspan baseline-shift="-4" font-size="8">2</tspan></text>
<line x1="89.60" y1="403.30" x2="115.60" y2="403.30" stroke="#5A1A1A" stroke-width="2.0" />
<text x="124.00" y="405.80" font-family="'Liberation Sans', sans-serif" font-size="12.9" text-anchor="start" >a-LAO/c-LCO</text>
<rect x="59.00" y="254.20" width="263.80" height="158.40" fill="none" stroke="#000" stroke-width="1.6"/>
<line x1="78.00" y1="412.60" x2="78.00" y2="417.40" stroke="#000" stroke-width="1.3" />
<line x1="78.00" y1="254.20" x2="78.00" y2="259.00" stroke="#000" stroke-width="1.3" />
<line x1="115.72" y1="412.60" x2="115.72" y2="417.40" stroke="#000" stroke-width="1.3" />
<line x1="115.72" y1="254.20" x2="115.72" y2="259.00" stroke="#000" stroke-width="1.3" />
<line x1="153.43" y1="412.60" x2="153.43" y2="417.40" stroke="#000" stroke-width="1.3" />
<line x1="153.43" y1="254.20" x2="153.43" y2="259.00" stroke="#000" stroke-width="1.3" />
<line x1="191.14" y1="412.60" x2="191.14" y2="417.40" stroke="#000" stroke-width="1.3" />
<line x1="191.14" y1="254.20" x2="191.14" y2="259.00" stroke="#000" stroke-width="1.3" />
<line x1="228.86" y1="412.60" x2="228.86" y2="417.40" stroke="#000" stroke-width="1.3" />
<line x1="228.86" y1="254.20" x2="228.86" y2="259.00" stroke="#000" stroke-width="1.3" />
<line x1="266.57" y1="412.60" x2="266.57" y2="417.40" stroke="#000" stroke-width="1.3" />
<line x1="266.57" y1="254.20" x2="266.57" y2="259.00" stroke="#000" stroke-width="1.3" />
<line x1="304.29" y1="412.60" x2="304.29" y2="417.40" stroke="#000" stroke-width="1.3" />
<line x1="304.29" y1="254.20" x2="304.29" y2="259.00" stroke="#000" stroke-width="1.3" />
<line x1="96.86" y1="412.60" x2="96.86" y2="415.60" stroke="#000" stroke-width="1.3" />
<line x1="96.86" y1="254.20" x2="96.86" y2="257.20" stroke="#000" stroke-width="1.3" />
<line x1="134.57" y1="412.60" x2="134.57" y2="415.60" stroke="#000" stroke-width="1.3" />
<line x1="134.57" y1="254.20" x2="134.57" y2="257.20" stroke="#000" stroke-width="1.3" />
<line x1="172.29" y1="412.60" x2="172.29" y2="415.60" stroke="#000" stroke-width="1.3" />
<line x1="172.29" y1="254.20" x2="172.29" y2="257.20" stroke="#000" stroke-width="1.3" />
<line x1="210.00" y1="412.60" x2="210.00" y2="415.60" stroke="#000" stroke-width="1.3" />
<line x1="210.00" y1="254.20" x2="210.00" y2="257.20" stroke="#000" stroke-width="1.3" />
<line x1="247.72" y1="412.60" x2="247.72" y2="415.60" stroke="#000" stroke-width="1.3" />
<line x1="247.72" y1="254.20" x2="247.72" y2="257.20" stroke="#000" stroke-width="1.3" />
<line x1="285.43" y1="412.60" x2="285.43" y2="415.60" stroke="#000" stroke-width="1.3" />
<line x1="285.43" y1="254.20" x2="285.43" y2="257.20" stroke="#000" stroke-width="1.3" />
<line x1="323.15" y1="412.60" x2="323.15" y2="415.60" stroke="#000" stroke-width="1.3" />
<line x1="323.15" y1="254.20" x2="323.15" y2="257.20" stroke="#000" stroke-width="1.3" />
<line x1="59.00" y1="407.90" x2="61.80" y2="407.90" stroke="#000" stroke-width="1.3" />
<line x1="322.80" y1="407.90" x2="320.00" y2="407.90" stroke="#000" stroke-width="1.3" />
<line x1="59.00" y1="400.47" x2="61.80" y2="400.47" stroke="#000" stroke-width="1.3" />
<line x1="322.80" y1="400.47" x2="320.00" y2="400.47" stroke="#000" stroke-width="1.3" />
<line x1="59.00" y1="395.19" x2="61.80" y2="395.19" stroke="#000" stroke-width="1.3" />
<line x1="322.80" y1="395.19" x2="320.00" y2="395.19" stroke="#000" stroke-width="1.3" />
<line x1="59.00" y1="391.10" x2="61.80" y2="391.10" stroke="#000" stroke-width="1.3" />
<line x1="322.80" y1="391.10" x2="320.00" y2="391.10" stroke="#000" stroke-width="1.3" />
<line x1="59.00" y1="387.76" x2="61.80" y2="387.76" stroke="#000" stroke-width="1.3" />
<line x1="322.80" y1="387.76" x2="320.00" y2="387.76" stroke="#000" stroke-width="1.3" />
<line x1="59.00" y1="384.94" x2="61.80" y2="384.94" stroke="#000" stroke-width="1.3" />
<line x1="322.80" y1="384.94" x2="320.00" y2="384.94" stroke="#000" stroke-width="1.3" />
<line x1="59.00" y1="382.49" x2="61.80" y2="382.49" stroke="#000" stroke-width="1.3" />
<line x1="322.80" y1="382.49" x2="320.00" y2="382.49" stroke="#000" stroke-width="1.3" />
<line x1="59.00" y1="380.33" x2="61.80" y2="380.33" stroke="#000" stroke-width="1.3" />
<line x1="322.80" y1="380.33" x2="320.00" y2="380.33" stroke="#000" stroke-width="1.3" />
<line x1="59.00" y1="378.40" x2="63.50" y2="378.40" stroke="#000" stroke-width="1.3" />
<line x1="322.80" y1="378.40" x2="318.30" y2="378.40" stroke="#000" stroke-width="1.3" />
<line x1="59.00" y1="365.70" x2="61.80" y2="365.70" stroke="#000" stroke-width="1.3" />
<line x1="322.80" y1="365.70" x2="320.00" y2="365.70" stroke="#000" stroke-width="1.3" />
<line x1="59.00" y1="358.27" x2="61.80" y2="358.27" stroke="#000" stroke-width="1.3" />
<line x1="322.80" y1="358.27" x2="320.00" y2="358.27" stroke="#000" stroke-width="1.3" />
<line x1="59.00" y1="352.99" x2="61.80" y2="352.99" stroke="#000" stroke-width="1.3" />
<line x1="322.80" y1="352.99" x2="320.00" y2="352.99" stroke="#000" stroke-width="1.3" />
<line x1="59.00" y1="348.90" x2="61.80" y2="348.90" stroke="#000" stroke-width="1.3" />
<line x1="322.80" y1="348.90" x2="320.00" y2="348.90" stroke="#000" stroke-width="1.3" />
<line x1="59.00" y1="345.56" x2="61.80" y2="345.56" stroke="#000" stroke-width="1.3" />
<line x1="322.80" y1="345.56" x2="320.00" y2="345.56" stroke="#000" stroke-width="1.3" />
<line x1="59.00" y1="342.74" x2="61.80" y2="342.74" stroke="#000" stroke-width="1.3" />
<line x1="322.80" y1="342.74" x2="320.00" y2="342.74" stroke="#000" stroke-width="1.3" />
<line x1="59.00" y1="340.29" x2="61.80" y2="340.29" stroke="#000" stroke-width="1.3" />
<line x1="322.80" y1="340.29" x2="320.00" y2="340.29" stroke="#000" stroke-width="1.3" />
<line x1="59.00" y1="338.13" x2="61.80" y2="338.13" stroke="#000" stroke-width="1.3" />
<line x1="322.80" y1="338.13" x2="320.00" y2="338.13" stroke="#000" stroke-width="1.3" />
<line x1="59.00" y1="336.20" x2="63.50" y2="336.20" stroke="#000" stroke-width="1.3" />
<line x1="322.80" y1="336.20" x2="318.30" y2="336.20" stroke="#000" stroke-width="1.3" />
<line x1="59.00" y1="323.50" x2="61.80" y2="323.50" stroke="#000" stroke-width="1.3" />
<line x1="322.80" y1="323.50" x2="320.00" y2="323.50" stroke="#000" stroke-width="1.3" />
<line x1="59.00" y1="316.07" x2="61.80" y2="316.07" stroke="#000" stroke-width="1.3" />
<line x1="322.80" y1="316.07" x2="320.00" y2="316.07" stroke="#000" stroke-width="1.3" />
<line x1="59.00" y1="310.79" x2="61.80" y2="310.79" stroke="#000" stroke-width="1.3" />
<line x1="322.80" y1="310.79" x2="320.00" y2="310.79" stroke="#000" stroke-width="1.3" />
<line x1="59.00" y1="306.70" x2="61.80" y2="306.70" stroke="#000" stroke-width="1.3" />
<line x1="322.80" y1="306.70" x2="320.00" y2="306.70" stroke="#000" stroke-width="1.3" />
<line x1="59.00" y1="303.36" x2="61.80" y2="303.36" stroke="#000" stroke-width="1.3" />
<line x1="322.80" y1="303.36" x2="320.00" y2="303.36" stroke="#000" stroke-width="1.3" />
<line x1="59.00" y1="300.54" x2="61.80" y2="300.54" stroke="#000" stroke-width="1.3" />
<line x1="322.80" y1="300.54" x2="320.00" y2="300.54" stroke="#000" stroke-width="1.3" />
<line x1="59.00" y1="298.09" x2="61.80" y2="298.09" stroke="#000" stroke-width="1.3" />
<line x1="322.80" y1="298.09" x2="320.00" y2="298.09" stroke="#000" stroke-width="1.3" />
<line x1="59.00" y1="295.93" x2="61.80" y2="295.93" stroke="#000" stroke-width="1.3" />
<line x1="322.80" y1="295.93" x2="320.00" y2="295.93" stroke="#000" stroke-width="1.3" />
<line x1="59.00" y1="294.00" x2="63.50" y2="294.00" stroke="#000" stroke-width="1.3" />
<line x1="322.80" y1="294.00" x2="318.30" y2="294.00" stroke="#000" stroke-width="1.3" />
<line x1="59.00" y1="281.30" x2="61.80" y2="281.30" stroke="#000" stroke-width="1.3" />
<line x1="322.80" y1="281.30" x2="320.00" y2="281.30" stroke="#000" stroke-width="1.3" />
<line x1="59.00" y1="273.87" x2="61.80" y2="273.87" stroke="#000" stroke-width="1.3" />
<line x1="322.80" y1="273.87" x2="320.00" y2="273.87" stroke="#000" stroke-width="1.3" />
<line x1="59.00" y1="268.59" x2="61.80" y2="268.59" stroke="#000" stroke-width="1.3" />
<line x1="322.80" y1="268.59" x2="320.00" y2="268.59" stroke="#000" stroke-width="1.3" />
<line x1="59.00" y1="264.50" x2="61.80" y2="264.50" stroke="#000" stroke-width="1.3" />
<line x1="322.80" y1="264.50" x2="320.00" y2="264.50" stroke="#000" stroke-width="1.3" />
<line x1="59.00" y1="261.16" x2="61.80" y2="261.16" stroke="#000" stroke-width="1.3" />
<line x1="322.80" y1="261.16" x2="320.00" y2="261.16" stroke="#000" stroke-width="1.3" />
<line x1="59.00" y1="258.34" x2="61.80" y2="258.34" stroke="#000" stroke-width="1.3" />
<line x1="322.80" y1="258.34" x2="320.00" y2="258.34" stroke="#000" stroke-width="1.3" />
<line x1="59.00" y1="255.89" x2="61.80" y2="255.89" stroke="#000" stroke-width="1.3" />
<line x1="322.80" y1="255.89" x2="320.00" y2="255.89" stroke="#000" stroke-width="1.3" />
<text x="79.00" y="433.00" font-family="'Liberation Serif', serif" font-size="18.8" text-anchor="middle" >0</text>
<text x="116.72" y="433.00" font-family="'Liberation Serif', serif" font-size="18.8" text-anchor="middle" >50</text>
<text x="154.43" y="433.00" font-family="'Liberation Serif', serif" font-size="18.8" text-anchor="middle" >100</text>
<text x="192.14" y="433.00" font-family="'Liberation Serif', serif" font-size="18.8" text-anchor="middle" >150</text>
<text x="229.86" y="433.00" font-family="'Liberation Serif', serif" font-size="18.8" text-anchor="middle" >200</text>
<text x="267.57" y="433.00" font-family="'Liberation Serif', serif" font-size="18.8" text-anchor="middle" >250</text>
<text x="305.29" y="433.00" font-family="'Liberation Serif', serif" font-size="18.8" text-anchor="middle" >300</text>
<text x="52.80" y="299.60" font-family="'Liberation Serif', serif" font-size="18" text-anchor="end" >100</text>
<text x="52.80" y="341.80" font-family="'Liberation Serif', serif" font-size="18" text-anchor="end" >10</text>
<text x="52.80" y="384.00" font-family="'Liberation Serif', serif" font-size="18" text-anchor="end" >1</text>
<text x="110.80" y="457.50" font-family="'Liberation Sans', sans-serif" font-size="23.6" text-anchor="start" >Temperature (K)</text>
<text transform="translate(4.4,249.2) scale(1.04,1)" font-family="'Liberation Sans', sans-serif" font-size="32.5">c</text>
<g transform="translate(21.8,385.2) rotate(-90)">
<text x="0" y="0" font-family="'Liberation Sans', sans-serif" font-size="22.6"><tspan font-style="italic">&#956;</tspan> (cm<tspan font-size="14" dy="-8">2</tspan><tspan dy="8">/v&#183;s)</tspan></text>
</g>
<polyline points="416.30,387.00 455.60,387.00 495.60,371.60 535.40,366.60 575.20,370.80 617.90,322.30 625.80,299.00 637.00,264.30" fill="none" stroke="#E0362A" stroke-width="1.6" stroke-linejoin="round" stroke-linecap="butt" />
<path d="M413.10,389.60 L419.50,389.60 L416.30,384.00 Z" fill="#E0322A"/>
<path d="M452.40,389.60 L458.80,389.60 L455.60,384.00 Z" fill="#E0322A"/>
<path d="M492.40,374.20 L498.80,374.20 L495.60,368.60 Z" fill="#E0322A"/>
<path d="M532.20,369.20 L538.60,369.20 L535.40,363.60 Z" fill="#E0322A"/>
<path d="M572.00,373.40 L578.40,373.40 L575.20,367.80 Z" fill="#E0322A"/>
<path d="M614.70,324.90 L621.10,324.90 L617.90,319.30 Z" fill="#E0322A"/>
<path d="M622.60,301.60 L629.00,301.60 L625.80,296.00 Z" fill="#E0322A"/>
<path d="M633.80,266.90 L640.20,266.90 L637.00,261.30 Z" fill="#E0322A"/>
<text x="458.50" y="283.00" font-family="'Liberation Sans', sans-serif" font-size="17.56" text-anchor="start" >Measurement limit</text>
<line x1="399.9" y1="264.1" x2="668.0" y2="264.1" stroke="#A8CB3C" stroke-width="2.2" stroke-dasharray="4.3 3.775" opacity="0.9"/>
<rect x="400.40" y="251.50" width="267.60" height="159.40" fill="none" stroke="#000" stroke-width="1.6"/>
<line x1="407.30" y1="410.90" x2="407.30" y2="408.10" stroke="#000" stroke-width="1.3" />
<line x1="407.30" y1="251.50" x2="407.30" y2="254.30" stroke="#000" stroke-width="1.3" />
<line x1="412.29" y1="410.90" x2="412.29" y2="408.10" stroke="#000" stroke-width="1.3" />
<line x1="412.29" y1="251.50" x2="412.29" y2="254.30" stroke="#000" stroke-width="1.3" />
<line x1="416.17" y1="410.90" x2="416.17" y2="408.10" stroke="#000" stroke-width="1.3" />
<line x1="416.17" y1="251.50" x2="416.17" y2="254.30" stroke="#000" stroke-width="1.3" />
<line x1="419.33" y1="410.90" x2="419.33" y2="408.10" stroke="#000" stroke-width="1.3" />
<line x1="419.33" y1="251.50" x2="419.33" y2="254.30" stroke="#000" stroke-width="1.3" />
<line x1="422.01" y1="410.90" x2="422.01" y2="408.10" stroke="#000" stroke-width="1.3" />
<line x1="422.01" y1="251.50" x2="422.01" y2="254.30" stroke="#000" stroke-width="1.3" />
<line x1="424.33" y1="410.90" x2="424.33" y2="408.10" stroke="#000" stroke-width="1.3" />
<line x1="424.33" y1="251.50" x2="424.33" y2="254.30" stroke="#000" stroke-width="1.3" />
<line x1="426.37" y1="410.90" x2="426.37" y2="408.10" stroke="#000" stroke-width="1.3" />
<line x1="426.37" y1="251.50" x2="426.37" y2="254.30" stroke="#000" stroke-width="1.3" />
<line x1="428.20" y1="410.90" x2="428.20" y2="406.40" stroke="#000" stroke-width="1.3" />
<line x1="428.20" y1="251.50" x2="428.20" y2="256.00" stroke="#000" stroke-width="1.3" />
<line x1="440.23" y1="410.90" x2="440.23" y2="408.10" stroke="#000" stroke-width="1.3" />
<line x1="440.23" y1="251.50" x2="440.23" y2="254.30" stroke="#000" stroke-width="1.3" />
<line x1="447.27" y1="410.90" x2="447.27" y2="408.10" stroke="#000" stroke-width="1.3" />
<line x1="447.27" y1="251.50" x2="447.27" y2="254.30" stroke="#000" stroke-width="1.3" />
<line x1="452.26" y1="410.90" x2="452.26" y2="408.10" stroke="#000" stroke-width="1.3" />
<line x1="452.26" y1="251.50" x2="452.26" y2="254.30" stroke="#000" stroke-width="1.3" />
<line x1="456.14" y1="410.90" x2="456.14" y2="408.10" stroke="#000" stroke-width="1.3" />
<line x1="456.14" y1="251.50" x2="456.14" y2="254.30" stroke="#000" stroke-width="1.3" />
<line x1="459.30" y1="410.90" x2="459.30" y2="408.10" stroke="#000" stroke-width="1.3" />
<line x1="459.30" y1="251.50" x2="459.30" y2="254.30" stroke="#000" stroke-width="1.3" />
<line x1="461.98" y1="410.90" x2="461.98" y2="408.10" stroke="#000" stroke-width="1.3" />
<line x1="461.98" y1="251.50" x2="461.98" y2="254.30" stroke="#000" stroke-width="1.3" />
<line x1="464.30" y1="410.90" x2="464.30" y2="408.10" stroke="#000" stroke-width="1.3" />
<line x1="464.30" y1="251.50" x2="464.30" y2="254.30" stroke="#000" stroke-width="1.3" />
<line x1="466.34" y1="410.90" x2="466.34" y2="408.10" stroke="#000" stroke-width="1.3" />
<line x1="466.34" y1="251.50" x2="466.34" y2="254.30" stroke="#000" stroke-width="1.3" />
<line x1="468.17" y1="410.90" x2="468.17" y2="406.40" stroke="#000" stroke-width="1.3" />
<line x1="468.17" y1="251.50" x2="468.17" y2="256.00" stroke="#000" stroke-width="1.3" />
<line x1="480.20" y1="410.90" x2="480.20" y2="408.10" stroke="#000" stroke-width="1.3" />
<line x1="480.20" y1="251.50" x2="480.20" y2="254.30" stroke="#000" stroke-width="1.3" />
<line x1="487.24" y1="410.90" x2="487.24" y2="408.10" stroke="#000" stroke-width="1.3" />
<line x1="487.24" y1="251.50" x2="487.24" y2="254.30" stroke="#000" stroke-width="1.3" />
<line x1="492.23" y1="410.90" x2="492.23" y2="408.10" stroke="#000" stroke-width="1.3" />
<line x1="492.23" y1="251.50" x2="492.23" y2="254.30" stroke="#000" stroke-width="1.3" />
<line x1="496.11" y1="410.90" x2="496.11" y2="408.10" stroke="#000" stroke-width="1.3" />
<line x1="496.11" y1="251.50" x2="496.11" y2="254.30" stroke="#000" stroke-width="1.3" />
<line x1="499.27" y1="410.90" x2="499.27" y2="408.10" stroke="#000" stroke-width="1.3" />
<line x1="499.27" y1="251.50" x2="499.27" y2="254.30" stroke="#000" stroke-width="1.3" />
<line x1="501.95" y1="410.90" x2="501.95" y2="408.10" stroke="#000" stroke-width="1.3" />
<line x1="501.95" y1="251.50" x2="501.95" y2="254.30" stroke="#000" stroke-width="1.3" />
<line x1="504.27" y1="410.90" x2="504.27" y2="408.10" stroke="#000" stroke-width="1.3" />
<line x1="504.27" y1="251.50" x2="504.27" y2="254.30" stroke="#000" stroke-width="1.3" />
<line x1="506.31" y1="410.90" x2="506.31" y2="408.10" stroke="#000" stroke-width="1.3" />
<line x1="506.31" y1="251.50" x2="506.31" y2="254.30" stroke="#000" stroke-width="1.3" />
<line x1="508.14" y1="410.90" x2="508.14" y2="406.40" stroke="#000" stroke-width="1.3" />
<line x1="508.14" y1="251.50" x2="508.14" y2="256.00" stroke="#000" stroke-width="1.3" />
<line x1="520.17" y1="410.90" x2="520.17" y2="408.10" stroke="#000" stroke-width="1.3" />
<line x1="520.17" y1="251.50" x2="520.17" y2="254.30" stroke="#000" stroke-width="1.3" />
<line x1="527.21" y1="410.90" x2="527.21" y2="408.10" stroke="#000" stroke-width="1.3" />
<line x1="527.21" y1="251.50" x2="527.21" y2="254.30" stroke="#000" stroke-width="1.3" />
<line x1="532.20" y1="410.90" x2="532.20" y2="408.10" stroke="#000" stroke-width="1.3" />
<line x1="532.20" y1="251.50" x2="532.20" y2="254.30" stroke="#000" stroke-width="1.3" />
<line x1="536.08" y1="410.90" x2="536.08" y2="408.10" stroke="#000" stroke-width="1.3" />
<line x1="536.08" y1="251.50" x2="536.08" y2="254.30" stroke="#000" stroke-width="1.3" />
<line x1="539.24" y1="410.90" x2="539.24" y2="408.10" stroke="#000" stroke-width="1.3" />
<line x1="539.24" y1="251.50" x2="539.24" y2="254.30" stroke="#000" stroke-width="1.3" />
<line x1="541.92" y1="410.90" x2="541.92" y2="408.10" stroke="#000" stroke-width="1.3" />
<line x1="541.92" y1="251.50" x2="541.92" y2="254.30" stroke="#000" stroke-width="1.3" />
<line x1="544.24" y1="410.90" x2="544.24" y2="408.10" stroke="#000" stroke-width="1.3" />
<line x1="544.24" y1="251.50" x2="544.24" y2="254.30" stroke="#000" stroke-width="1.3" />
<line x1="546.28" y1="410.90" x2="546.28" y2="408.10" stroke="#000" stroke-width="1.3" />
<line x1="546.28" y1="251.50" x2="546.28" y2="254.30" stroke="#000" stroke-width="1.3" />
<line x1="548.11" y1="410.90" x2="548.11" y2="406.40" stroke="#000" stroke-width="1.3" />
<line x1="548.11" y1="251.50" x2="548.11" y2="256.00" stroke="#000" stroke-width="1.3" />
<line x1="560.14" y1="410.90" x2="560.14" y2="408.10" stroke="#000" stroke-width="1.3" />
<line x1="560.14" y1="251.50" x2="560.14" y2="254.30" stroke="#000" stroke-width="1.3" />
<line x1="567.18" y1="410.90" x2="567.18" y2="408.10" stroke="#000" stroke-width="1.3" />
<line x1="567.18" y1="251.50" x2="567.18" y2="254.30" stroke="#000" stroke-width="1.3" />
<line x1="572.17" y1="410.90" x2="572.17" y2="408.10" stroke="#000" stroke-width="1.3" />
<line x1="572.17" y1="251.50" x2="572.17" y2="254.30" stroke="#000" stroke-width="1.3" />
<line x1="576.05" y1="410.90" x2="576.05" y2="408.10" stroke="#000" stroke-width="1.3" />
<line x1="576.05" y1="251.50" x2="576.05" y2="254.30" stroke="#000" stroke-width="1.3" />
<line x1="579.21" y1="410.90" x2="579.21" y2="408.10" stroke="#000" stroke-width="1.3" />
<line x1="579.21" y1="251.50" x2="579.21" y2="254.30" stroke="#000" stroke-width="1.3" />
<line x1="581.89" y1="410.90" x2="581.89" y2="408.10" stroke="#000" stroke-width="1.3" />
<line x1="581.89" y1="251.50" x2="581.89" y2="254.30" stroke="#000" stroke-width="1.3" />
<line x1="584.21" y1="410.90" x2="584.21" y2="408.10" stroke="#000" stroke-width="1.3" />
<line x1="584.21" y1="251.50" x2="584.21" y2="254.30" stroke="#000" stroke-width="1.3" />
<line x1="586.25" y1="410.90" x2="586.25" y2="408.10" stroke="#000" stroke-width="1.3" />
<line x1="586.25" y1="251.50" x2="586.25" y2="254.30" stroke="#000" stroke-width="1.3" />
<line x1="588.08" y1="410.90" x2="588.08" y2="406.40" stroke="#000" stroke-width="1.3" />
<line x1="588.08" y1="251.50" x2="588.08" y2="256.00" stroke="#000" stroke-width="1.3" />
<line x1="600.11" y1="410.90" x2="600.11" y2="408.10" stroke="#000" stroke-width="1.3" />
<line x1="600.11" y1="251.50" x2="600.11" y2="254.30" stroke="#000" stroke-width="1.3" />
<line x1="607.15" y1="410.90" x2="607.15" y2="408.10" stroke="#000" stroke-width="1.3" />
<line x1="607.15" y1="251.50" x2="607.15" y2="254.30" stroke="#000" stroke-width="1.3" />
<line x1="612.14" y1="410.90" x2="612.14" y2="408.10" stroke="#000" stroke-width="1.3" />
<line x1="612.14" y1="251.50" x2="612.14" y2="254.30" stroke="#000" stroke-width="1.3" />
<line x1="616.02" y1="410.90" x2="616.02" y2="408.10" stroke="#000" stroke-width="1.3" />
<line x1="616.02" y1="251.50" x2="616.02" y2="254.30" stroke="#000" stroke-width="1.3" />
<line x1="619.18" y1="410.90" x2="619.18" y2="408.10" stroke="#000" stroke-width="1.3" />
<line x1="619.18" y1="251.50" x2="619.18" y2="254.30" stroke="#000" stroke-width="1.3" />
<line x1="621.86" y1="410.90" x2="621.86" y2="408.10" stroke="#000" stroke-width="1.3" />
<line x1="621.86" y1="251.50" x2="621.86" y2="254.30" stroke="#000" stroke-width="1.3" />
<line x1="624.18" y1="410.90" x2="624.18" y2="408.10" stroke="#000" stroke-width="1.3" />
<line x1="624.18" y1="251.50" x2="624.18" y2="254.30" stroke="#000" stroke-width="1.3" />
<line x1="626.22" y1="410.90" x2="626.22" y2="408.10" stroke="#000" stroke-width="1.3" />
<line x1="626.22" y1="251.50" x2="626.22" y2="254.30" stroke="#000" stroke-width="1.3" />
<line x1="628.05" y1="410.90" x2="628.05" y2="406.40" stroke="#000" stroke-width="1.3" />
<line x1="628.05" y1="251.50" x2="628.05" y2="256.00" stroke="#000" stroke-width="1.3" />
<line x1="640.08" y1="410.90" x2="640.08" y2="408.10" stroke="#000" stroke-width="1.3" />
<line x1="640.08" y1="251.50" x2="640.08" y2="254.30" stroke="#000" stroke-width="1.3" />
<line x1="647.12" y1="410.90" x2="647.12" y2="408.10" stroke="#000" stroke-width="1.3" />
<line x1="647.12" y1="251.50" x2="647.12" y2="254.30" stroke="#000" stroke-width="1.3" />
<line x1="652.11" y1="410.90" x2="652.11" y2="408.10" stroke="#000" stroke-width="1.3" />
<line x1="652.11" y1="251.50" x2="652.11" y2="254.30" stroke="#000" stroke-width="1.3" />
<line x1="655.99" y1="410.90" x2="655.99" y2="408.10" stroke="#000" stroke-width="1.3" />
<line x1="655.99" y1="251.50" x2="655.99" y2="254.30" stroke="#000" stroke-width="1.3" />
<line x1="659.15" y1="410.90" x2="659.15" y2="408.10" stroke="#000" stroke-width="1.3" />
<line x1="659.15" y1="251.50" x2="659.15" y2="254.30" stroke="#000" stroke-width="1.3" />
<line x1="661.83" y1="410.90" x2="661.83" y2="408.10" stroke="#000" stroke-width="1.3" />
<line x1="661.83" y1="251.50" x2="661.83" y2="254.30" stroke="#000" stroke-width="1.3" />
<line x1="664.15" y1="410.90" x2="664.15" y2="408.10" stroke="#000" stroke-width="1.3" />
<line x1="664.15" y1="251.50" x2="664.15" y2="254.30" stroke="#000" stroke-width="1.3" />
<line x1="666.19" y1="410.90" x2="666.19" y2="408.10" stroke="#000" stroke-width="1.3" />
<line x1="666.19" y1="251.50" x2="666.19" y2="254.30" stroke="#000" stroke-width="1.3" />
<line x1="400.40" y1="398.90" x2="403.20" y2="398.90" stroke="#000" stroke-width="1.3" />
<line x1="668.00" y1="398.90" x2="665.20" y2="398.90" stroke="#000" stroke-width="1.3" />
<line x1="400.40" y1="391.89" x2="403.20" y2="391.89" stroke="#000" stroke-width="1.3" />
<line x1="668.00" y1="391.89" x2="665.20" y2="391.89" stroke="#000" stroke-width="1.3" />
<line x1="400.40" y1="386.91" x2="403.20" y2="386.91" stroke="#000" stroke-width="1.3" />
<line x1="668.00" y1="386.91" x2="665.20" y2="386.91" stroke="#000" stroke-width="1.3" />
<line x1="400.40" y1="383.05" x2="403.20" y2="383.05" stroke="#000" stroke-width="1.3" />
<line x1="668.00" y1="383.05" x2="665.20" y2="383.05" stroke="#000" stroke-width="1.3" />
<line x1="400.40" y1="379.89" x2="403.20" y2="379.89" stroke="#000" stroke-width="1.3" />
<line x1="668.00" y1="379.89" x2="665.20" y2="379.89" stroke="#000" stroke-width="1.3" />
<line x1="400.40" y1="377.22" x2="403.20" y2="377.22" stroke="#000" stroke-width="1.3" />
<line x1="668.00" y1="377.22" x2="665.20" y2="377.22" stroke="#000" stroke-width="1.3" />
<line x1="400.40" y1="374.91" x2="403.20" y2="374.91" stroke="#000" stroke-width="1.3" />
<line x1="668.00" y1="374.91" x2="665.20" y2="374.91" stroke="#000" stroke-width="1.3" />
<line x1="400.40" y1="372.87" x2="403.20" y2="372.87" stroke="#000" stroke-width="1.3" />
<line x1="668.00" y1="372.87" x2="665.20" y2="372.87" stroke="#000" stroke-width="1.3" />
<line x1="400.40" y1="371.05" x2="404.90" y2="371.05" stroke="#000" stroke-width="1.3" />
<line x1="668.00" y1="371.05" x2="663.50" y2="371.05" stroke="#000" stroke-width="1.3" />
<line x1="400.40" y1="359.05" x2="403.20" y2="359.05" stroke="#000" stroke-width="1.3" />
<line x1="668.00" y1="359.05" x2="665.20" y2="359.05" stroke="#000" stroke-width="1.3" />
<line x1="400.40" y1="352.04" x2="403.20" y2="352.04" stroke="#000" stroke-width="1.3" />
<line x1="668.00" y1="352.04" x2="665.20" y2="352.04" stroke="#000" stroke-width="1.3" />
<line x1="400.40" y1="347.06" x2="403.20" y2="347.06" stroke="#000" stroke-width="1.3" />
<line x1="668.00" y1="347.06" x2="665.20" y2="347.06" stroke="#000" stroke-width="1.3" />
<line x1="400.40" y1="343.20" x2="403.20" y2="343.20" stroke="#000" stroke-width="1.3" />
<line x1="668.00" y1="343.20" x2="665.20" y2="343.20" stroke="#000" stroke-width="1.3" />
<line x1="400.40" y1="340.04" x2="403.20" y2="340.04" stroke="#000" stroke-width="1.3" />
<line x1="668.00" y1="340.04" x2="665.20" y2="340.04" stroke="#000" stroke-width="1.3" />
<line x1="400.40" y1="337.37" x2="403.20" y2="337.37" stroke="#000" stroke-width="1.3" />
<line x1="668.00" y1="337.37" x2="665.20" y2="337.37" stroke="#000" stroke-width="1.3" />
<line x1="400.40" y1="335.06" x2="403.20" y2="335.06" stroke="#000" stroke-width="1.3" />
<line x1="668.00" y1="335.06" x2="665.20" y2="335.06" stroke="#000" stroke-width="1.3" />
<line x1="400.40" y1="333.02" x2="403.20" y2="333.02" stroke="#000" stroke-width="1.3" />
<line x1="668.00" y1="333.02" x2="665.20" y2="333.02" stroke="#000" stroke-width="1.3" />
<line x1="400.40" y1="331.20" x2="404.90" y2="331.20" stroke="#000" stroke-width="1.3" />
<line x1="668.00" y1="331.20" x2="663.50" y2="331.20" stroke="#000" stroke-width="1.3" />
<line x1="400.40" y1="319.20" x2="403.20" y2="319.20" stroke="#000" stroke-width="1.3" />
<line x1="668.00" y1="319.20" x2="665.20" y2="319.20" stroke="#000" stroke-width="1.3" />
<line x1="400.40" y1="312.19" x2="403.20" y2="312.19" stroke="#000" stroke-width="1.3" />
<line x1="668.00" y1="312.19" x2="665.20" y2="312.19" stroke="#000" stroke-width="1.3" />
<line x1="400.40" y1="307.21" x2="403.20" y2="307.21" stroke="#000" stroke-width="1.3" />
<line x1="668.00" y1="307.21" x2="665.20" y2="307.21" stroke="#000" stroke-width="1.3" />
<line x1="400.40" y1="303.35" x2="403.20" y2="303.35" stroke="#000" stroke-width="1.3" />
<line x1="668.00" y1="303.35" x2="665.20" y2="303.35" stroke="#000" stroke-width="1.3" />
<line x1="400.40" y1="300.19" x2="403.20" y2="300.19" stroke="#000" stroke-width="1.3" />
<line x1="668.00" y1="300.19" x2="665.20" y2="300.19" stroke="#000" stroke-width="1.3" />
<line x1="400.40" y1="297.52" x2="403.20" y2="297.52" stroke="#000" stroke-width="1.3" />
<line x1="668.00" y1="297.52" x2="665.20" y2="297.52" stroke="#000" stroke-width="1.3" />
<line x1="400.40" y1="295.21" x2="403.20" y2="295.21" stroke="#000" stroke-width="1.3" />
<line x1="668.00" y1="295.21" x2="665.20" y2="295.21" stroke="#000" stroke-width="1.3" />
<line x1="400.40" y1="293.17" x2="403.20" y2="293.17" stroke="#000" stroke-width="1.3" />
<line x1="668.00" y1="293.17" x2="665.20" y2="293.17" stroke="#000" stroke-width="1.3" />
<line x1="400.40" y1="291.35" x2="404.90" y2="291.35" stroke="#000" stroke-width="1.3" />
<line x1="668.00" y1="291.35" x2="663.50" y2="291.35" stroke="#000" stroke-width="1.3" />
<line x1="400.40" y1="279.35" x2="403.20" y2="279.35" stroke="#000" stroke-width="1.3" />
<line x1="668.00" y1="279.35" x2="665.20" y2="279.35" stroke="#000" stroke-width="1.3" />
<line x1="400.40" y1="272.34" x2="403.20" y2="272.34" stroke="#000" stroke-width="1.3" />
<line x1="668.00" y1="272.34" x2="665.20" y2="272.34" stroke="#000" stroke-width="1.3" />
<line x1="400.40" y1="267.36" x2="403.20" y2="267.36" stroke="#000" stroke-width="1.3" />
<line x1="668.00" y1="267.36" x2="665.20" y2="267.36" stroke="#000" stroke-width="1.3" />
<line x1="400.40" y1="263.50" x2="403.20" y2="263.50" stroke="#000" stroke-width="1.3" />
<line x1="668.00" y1="263.50" x2="665.20" y2="263.50" stroke="#000" stroke-width="1.3" />
<line x1="400.40" y1="260.34" x2="403.20" y2="260.34" stroke="#000" stroke-width="1.3" />
<line x1="668.00" y1="260.34" x2="665.20" y2="260.34" stroke="#000" stroke-width="1.3" />
<line x1="400.40" y1="257.67" x2="403.20" y2="257.67" stroke="#000" stroke-width="1.3" />
<line x1="668.00" y1="257.67" x2="665.20" y2="257.67" stroke="#000" stroke-width="1.3" />
<line x1="400.40" y1="255.36" x2="403.20" y2="255.36" stroke="#000" stroke-width="1.3" />
<line x1="668.00" y1="255.36" x2="665.20" y2="255.36" stroke="#000" stroke-width="1.3" />
<line x1="400.40" y1="253.32" x2="403.20" y2="253.32" stroke="#000" stroke-width="1.3" />
<line x1="668.00" y1="253.32" x2="665.20" y2="253.32" stroke="#000" stroke-width="1.3" />
<text x="433.00" y="432.80" font-family="'Liberation Sans', sans-serif" font-size="16.8" text-anchor="end" >10</text>
<text x="433.40" y="425.60" font-family="'Liberation Sans', sans-serif" font-size="10" text-anchor="start" >-7</text>
<text x="472.97" y="432.80" font-family="'Liberation Sans', sans-serif" font-size="16.8" text-anchor="end" >10</text>
<text x="473.37" y="425.60" font-family="'Liberation Sans', sans-serif" font-size="10" text-anchor="start" >-6</text>
<text x="512.94" y="432.80" font-family="'Liberation Sans', sans-serif" font-size="16.8" text-anchor="end" >10</text>
<text x="513.34" y="425.60" font-family="'Liberation Sans', sans-serif" font-size="10" text-anchor="start" >-5</text>
<text x="552.91" y="432.80" font-family="'Liberation Sans', sans-serif" font-size="16.8" text-anchor="end" >10</text>
<text x="553.31" y="425.60" font-family="'Liberation Sans', sans-serif" font-size="10" text-anchor="start" >-4</text>
<text x="592.88" y="432.80" font-family="'Liberation Sans', sans-serif" font-size="16.8" text-anchor="end" >10</text>
<text x="593.28" y="425.60" font-family="'Liberation Sans', sans-serif" font-size="10" text-anchor="start" >-3</text>
<text x="632.85" y="432.80" font-family="'Liberation Sans', sans-serif" font-size="16.8" text-anchor="end" >10</text>
<text x="633.25" y="425.60" font-family="'Liberation Sans', sans-serif" font-size="10" text-anchor="start" >-2</text>
<text x="672.82" y="432.80" font-family="'Liberation Sans', sans-serif" font-size="16.8" text-anchor="end" >10</text>
<text x="673.22" y="425.60" font-family="'Liberation Sans', sans-serif" font-size="10" text-anchor="start" >-1</text>
<text x="387.60" y="413.30" font-family="'Liberation Sans', sans-serif" font-size="16.8" text-anchor="end" >10</text>
<text x="389.20" y="404.70" font-family="'Liberation Sans', sans-serif" font-size="10" text-anchor="start" >0</text>
<text x="387.60" y="377.75" font-family="'Liberation Sans', sans-serif" font-size="16.8" text-anchor="end" >10</text>
<text x="389.20" y="369.15" font-family="'Liberation Sans', sans-serif" font-size="10" text-anchor="start" >1</text>
<text x="387.60" y="337.90" font-family="'Liberation Sans', sans-serif" font-size="16.8" text-anchor="end" >10</text>
<text x="389.20" y="329.30" font-family="'Liberation Sans', sans-serif" font-size="10" text-anchor="start" >2</text>
<text x="387.60" y="298.05" font-family="'Liberation Sans', sans-serif" font-size="16.8" text-anchor="end" >10</text>
<text x="389.20" y="289.45" font-family="'Liberation Sans', sans-serif" font-size="10" text-anchor="start" >3</text>
<text x="387.60" y="258.20" font-family="'Liberation Sans', sans-serif" font-size="16.8" text-anchor="end" >10</text>
<text x="389.20" y="249.60" font-family="'Liberation Sans', sans-serif" font-size="10" text-anchor="start" >4</text>
<text x="408.10" y="456.80" font-family="'Liberation Sans', sans-serif" font-size="23.5" text-anchor="start" >Oxygen pressure (mbar)</text>
<text transform="translate(337.6,248.3) scale(1.04,1)" font-family="'Liberation Sans', sans-serif" font-size="32.5">d</text>
<g transform="translate(365.70,376.65) rotate(-90)">
<text x="0" y="0" font-family="'Liberation Sans', sans-serif" font-size="23.0" font-style="italic">R</text>
<text x="21.2" y="0" font-family="'Liberation Sans', sans-serif" font-size="23.0">(k&#937;/</text>
<rect x="68.6" y="-14.6" width="11.2" height="14.6" fill="none" stroke="#8a8a8a" stroke-width="1"/>
<text x="83.2" y="0" font-family="'Liberation Sans', sans-serif" font-size="23.0">)</text>
</g>
</svg>
</body></html>
